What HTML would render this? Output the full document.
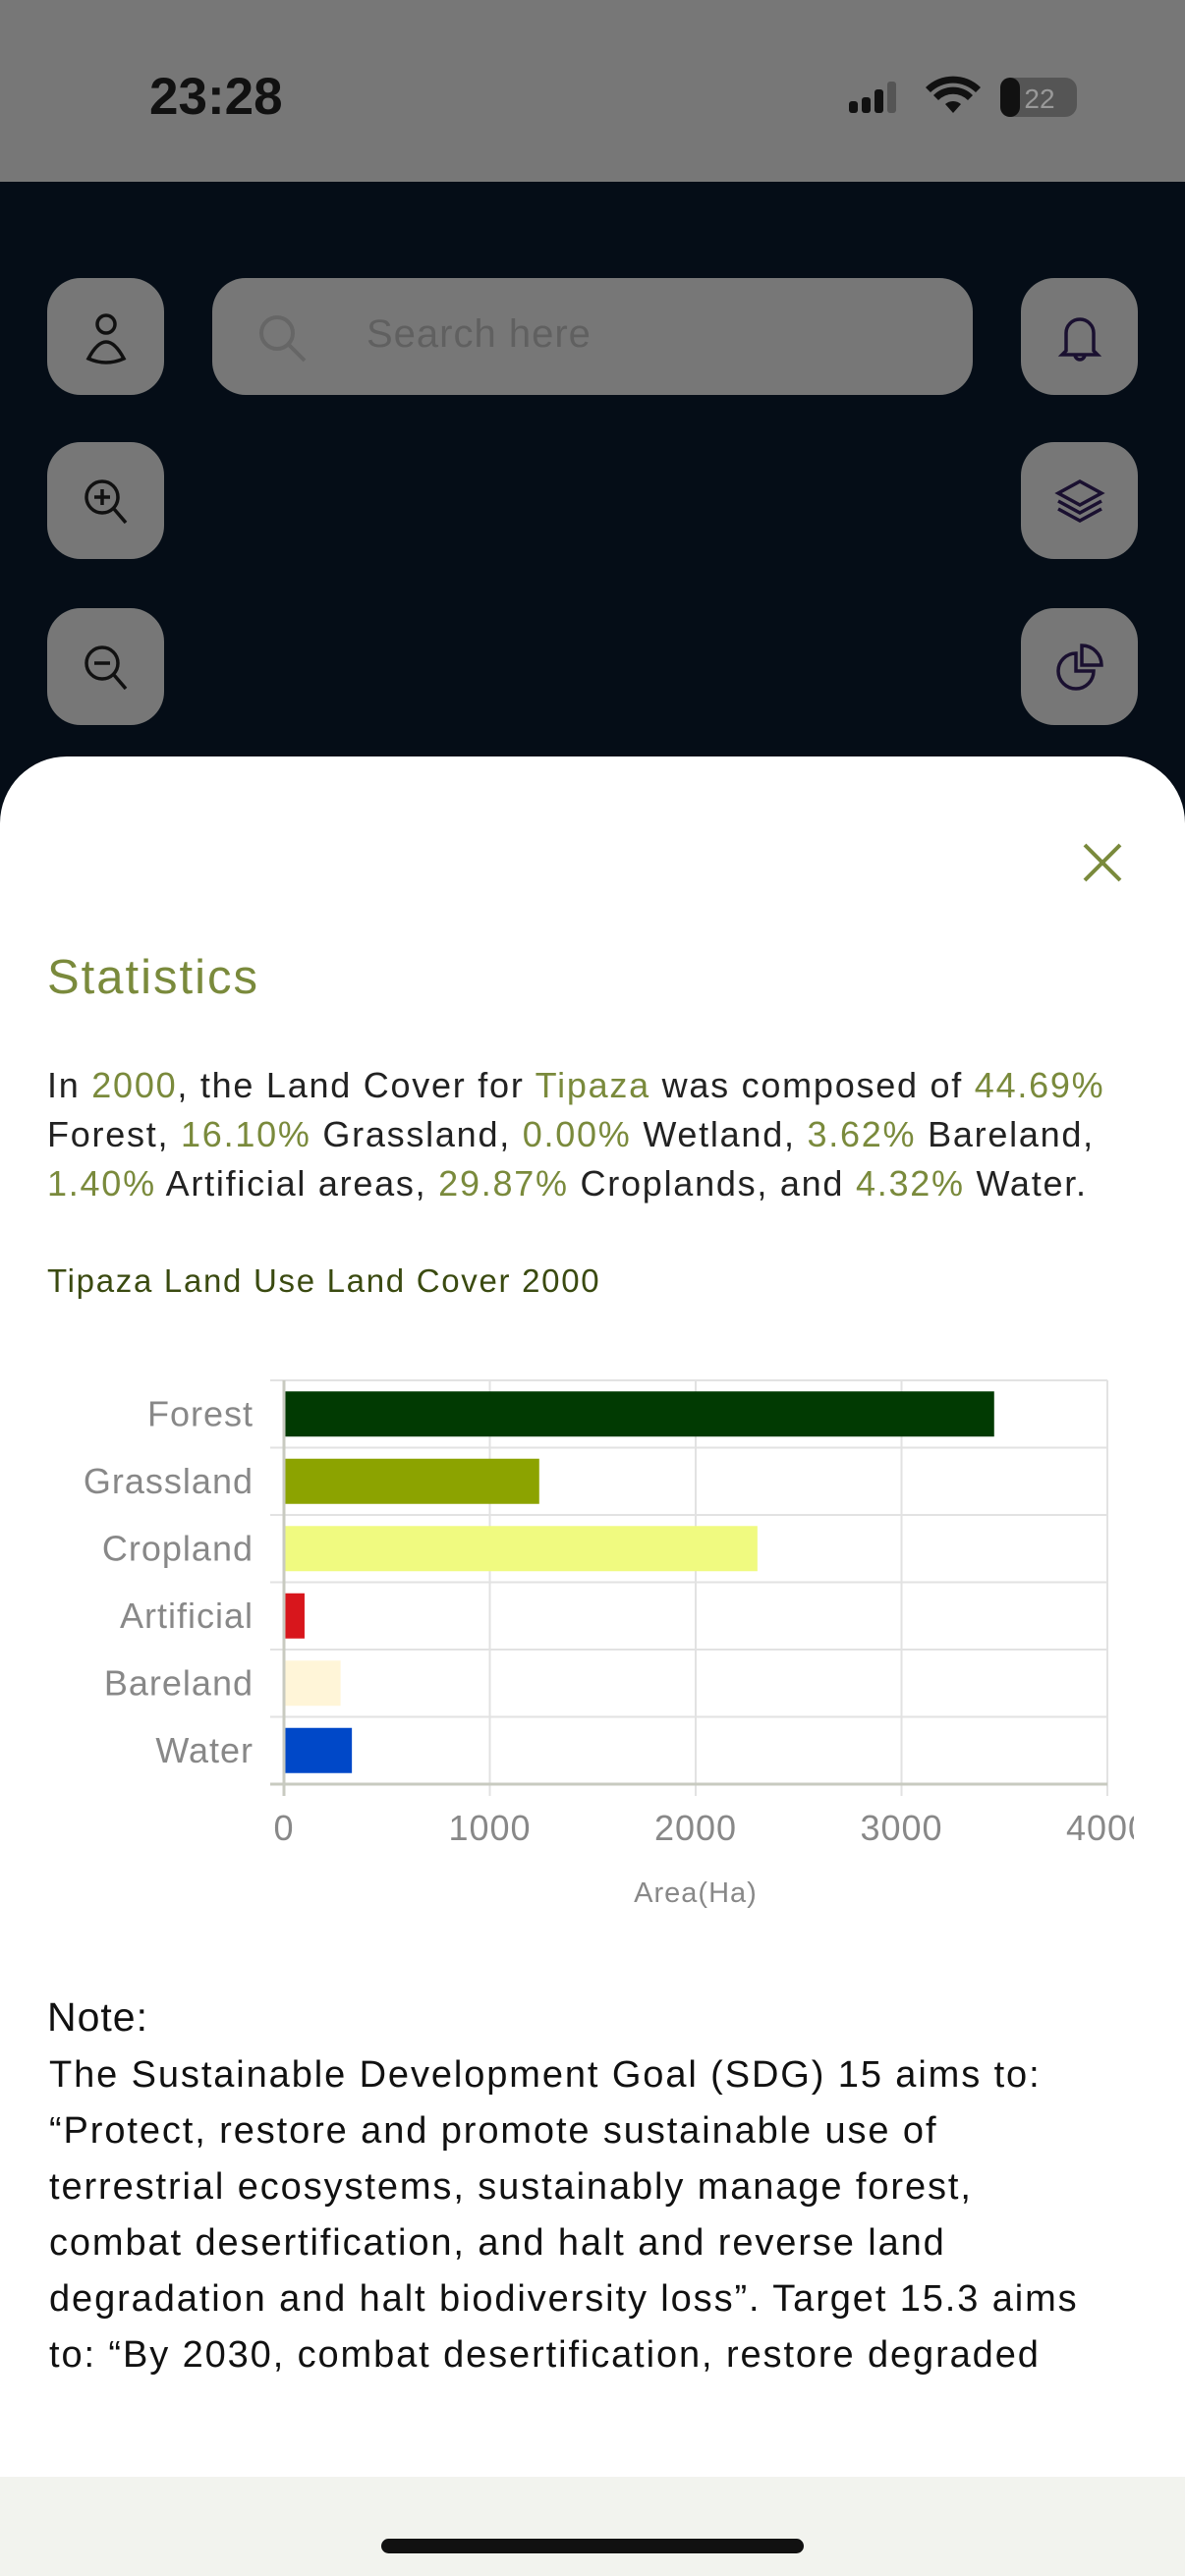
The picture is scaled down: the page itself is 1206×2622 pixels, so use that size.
<!DOCTYPE html>
<html><head><meta charset="utf-8">
<style>
*{margin:0;padding:0;box-sizing:border-box}
body{width:1206px;height:2622px;overflow:hidden;background:#050d17;font-family:"Liberation Sans",sans-serif;position:relative}
.abs{position:absolute}
.btn{position:absolute;width:119px;height:119px;border-radius:34px;background:#777;display:flex;align-items:center;justify-content:center}
.hl{color:#7a8a3c}
</style></head><body>
<div class="abs" style="left:0;top:0;width:1206px;height:185px;background:#777"></div>
<div class="abs" style="left:152px;top:68px;font-size:53px;font-weight:bold;color:#111">23:28</div>
<svg class="abs" style="left:860px;top:75px" width="240" height="50">
<g fill="#111"><rect x="4" y="28" width="9" height="12" rx="3"/><rect x="17" y="24" width="9" height="16" rx="3"/><rect x="30" y="16" width="9" height="24" rx="3"/><rect x="43" y="8" width="9" height="32" rx="3" fill="#555"/>
<path d="M110 40 l-8 -9 a12 12 0 0 1 16 0z M90 22 a28 28 0 0 1 40 0 l-5 5 a21 21 0 0 0 -30 0z M82 14 a40 40 0 0 1 56 0 l-5 5 a33 33 0 0 0 -46 0z"/>
<rect x="158" y="4" width="78" height="40" rx="12" fill="#555"/><rect x="158" y="4" width="20" height="40" rx="10"/></g>
<text x="198" y="35" font-size="28" fill="#999" text-anchor="middle" font-family="Liberation Sans">22</text></svg>
<div class="btn" style="left:48px;top:283px"><svg width="60" height="60" fill="none" stroke="#111" stroke-width="3.5"><circle cx="30" cy="17" r="9"/><path d="M12 52 q18-34 36 0 q-18 8-36 0z"/></svg></div>
<div class="abs" style="left:216px;top:283px;width:774px;height:119px;border-radius:34px;background:#777"></div>
<svg class="abs" style="left:258px;top:315px" width="60" height="60" fill="none" stroke="#666" stroke-width="4"><circle cx="24" cy="24" r="16"/><path d="M36 36 l16 16"/></svg>
<div class="abs" style="left:373px;top:318px;font-size:40px;letter-spacing:1px;color:#606060">Search here</div>
<div class="btn" style="left:1039px;top:283px"><svg width="60" height="60" fill="none" stroke="#1a1030" stroke-width="3.5"><path d="M16 44 V26 a14 14 0 0 1 28 0 V44 l4 4 H12z M25 48 a5 5 0 0 0 10 0"/></svg></div>
<div class="btn" style="left:48px;top:450px"><svg width="60" height="60" fill="none" stroke="#111" stroke-width="3.5"><circle cx="26" cy="26" r="16"/><path d="M38 38 l12 14 M26 18 v16 M18 26 h16"/></svg></div>
<div class="btn" style="left:1039px;top:450px"><svg width="60" height="60" fill="none" stroke="#1a1030" stroke-width="3.5"><path d="M30 10 l22 12 -22 12 -22 -12z M8 30 l22 12 22 -12 M8 38 l22 12 22 -12"/></svg></div>
<div class="btn" style="left:48px;top:619px"><svg width="60" height="60" fill="none" stroke="#111" stroke-width="3.5"><circle cx="26" cy="26" r="16"/><path d="M38 38 l12 14 M18 26 h16"/></svg></div>
<div class="btn" style="left:1039px;top:619px"><svg width="60" height="60" fill="none" stroke="#1a1030" stroke-width="3.5"><path d="M26 16 a18 18 0 1 0 18 18 H26z M32 8 a20 20 0 0 1 20 20 H32z"/></svg></div>

<div class="abs" style="left:0;top:770px;width:1206px;height:1852px;background:#fff;border-radius:68px 68px 0 0"></div>
<svg class="abs" style="left:1100px;top:856px" width="44" height="44" stroke="#7a8a3c" stroke-width="4"><path d="M4 4 L40 40 M40 4 L4 40"/></svg>
<div class="abs" style="left:48px;top:967px;font-size:49px;letter-spacing:2px;color:#7a8a3c">Statistics</div>
<div class="abs" style="left:48px;top:1080px;width:1150px;font-size:36px;letter-spacing:1.75px;line-height:50px;color:#222;white-space:nowrap">In <span class="hl">2000</span>, the Land Cover for <span class="hl">Tipaza</span> was composed of <span class="hl">44.69%</span><br>Forest, <span class="hl">16.10%</span> Grassland, <span class="hl">0.00%</span> Wetland, <span class="hl">3.62%</span> Bareland,<br><span class="hl">1.40%</span> Artificial areas, <span class="hl">29.87%</span> Croplands, and <span class="hl">4.32%</span> Water.</div>
<div class="abs" style="left:48px;top:1285px;font-size:33px;letter-spacing:1.7px;color:#3a4a10">Tipaza Land Use Land Cover 2000</div>

<svg class="abs" id="chart" style="left:0;top:1380px" width="1154" height="580"></svg>

<div class="abs" style="left:48px;top:2030px;font-size:41px;letter-spacing:1px;color:#111">Note:</div>
<div class="abs" style="left:50px;top:2084px;width:1150px;font-size:38px;letter-spacing:1.9px;line-height:57px;color:#111;white-space:nowrap">The Sustainable Development Goal (SDG) 15 aims to:<br>“Protect, restore and promote sustainable use of<br>terrestrial ecosystems, sustainably manage forest,<br>combat desertification, and halt and reverse land<br>degradation and halt biodiversity loss”. Target 15.3 aims<br>to: “By 2030, combat desertification, restore degraded</div>
<div class="abs" style="left:0;top:2521px;width:1206px;height:101px;background:#f2f3ee"></div>
<div class="abs" style="left:388px;top:2584px;width:430px;height:15px;border-radius:8px;background:#111"></div>

<script>
const categories=["Forest","Grassland","Cropland","Artificial","Bareland","Water"];
const values=[3450,1240,2300,100,275,330];
const colors=["#013a02","#8ca300","#f0fa80","#d8161c","#fff5d8","#0048c8"];
const ticks=[0,1000,2000,3000,4000];
const NS="http://www.w3.org/2000/svg";
const svg=document.getElementById("chart");
const X0=289,X1=1127,Y0=25,Y1=436;
const xs=v=>X0+v/4000*(X1-X0);
const rowH=(Y1-Y0)/categories.length;
function mk(t,a){const e=document.createElementNS(NS,t);for(const k in a)e.setAttribute(k,a[k]);svg.appendChild(e);return e;}
ticks.forEach(t=>{
 const g=mk("line",{x1:xs(t),x2:xs(t),y1:Y0,y2:Y1+12,stroke:"#e2e2e2","stroke-width":2});
 
 
 const l=mk("text",{x:xs(t),y:Y1+57,"font-size":36,"letter-spacing":1,fill:"#888","text-anchor":"middle","font-family":"Liberation Sans"});
 l.textContent=t;
 
 
});
for(let i=0;i<=categories.length;i++){
 const y=Y0+i*rowH;
 const g=mk("line",{x1:X0-14,x2:X1,y1:y,y2:y,stroke:i==categories.length?"#c8cac0":"#e2e2e2","stroke-width":i==categories.length?3:2});
 
 
}
categories.forEach((c,i)=>{
 const yc=Y0+(i+0.5)*rowH;
 const b=mk("rect",{x:xs(0),y:yc-23,width:xs(values[i])-xs(0),height:46,fill:colors[i]});
 
 
 const t=mk("text",{x:258,y:yc+12,"font-size":36,"letter-spacing":1,fill:"#888","text-anchor":"end","font-family":"Liberation Sans"});
 t.textContent=c;
 
 
});
const ax=mk("line",{x1:X0,x2:X0,y1:Y0,y2:Y1+12,stroke:"#c8cac0","stroke-width":3});


const at=mk("text",{x:(X0+X1)/2,y:Y1+120,"font-size":29,"letter-spacing":1,fill:"#888","text-anchor":"middle","font-family":"Liberation Sans"});
at.textContent="Area(Ha)";


</script>
</body></html>
